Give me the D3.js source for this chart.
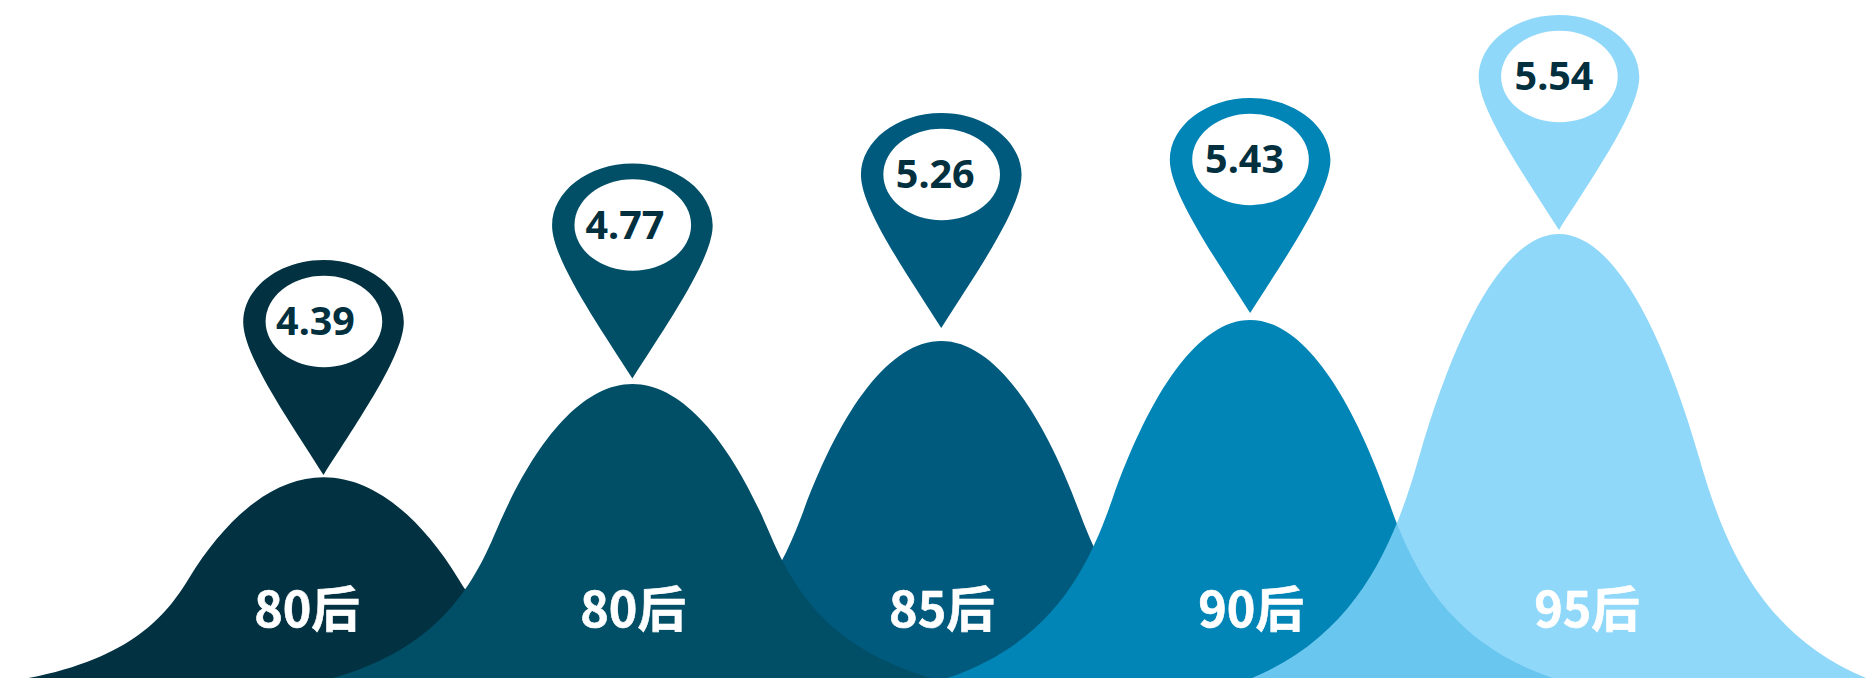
<!DOCTYPE html>
<html lang="zh">
<head>
<meta charset="utf-8">
<title>各年代人群指数</title>
<script src="https://cdn.jsdelivr.net/npm/d3@7/dist/d3.min.js"></script>
<style>
  html, body { margin: 0; padding: 0; background: #fff; overflow: hidden; }
  svg { display: block; }
  .value { font-family: "Noto Sans", sans-serif; font-weight: 700; font-size: 39.5px; fill: #02303f; text-anchor: middle; }
  .cat { font-family: "Noto Sans CJK SC", "Noto Sans", sans-serif; font-weight: 700; font-size: 48.5px; fill: #fff; stroke: #fff; stroke-width: 0.6px; text-anchor: middle; }
</style>
</head>
<body>
<svg id="chart" width="1870" height="678"></svg>
<script>
// Generations and their index values
const categories = ["80后", "80后", "85后", "90后", "95后"];
const values = [4.39, 4.77, 5.26, 5.43, 5.54];
const valueLabels = ["4.39", "4.77", "5.26", "5.43", "5.54"];

// Fill and opacity per generation
const fills = ["#023241", "#004f66", "#005a7d", "#0085b6", "#7bd1f8"];
const opacities = [1, 1, 1, 1, 0.85];

// Peaks are painted in this order, the 85后 peak sits behind its neighbours
const paintOrder = [0, 2, 1, 3, 4];

// Right half of a peak as two cubic segments, in [distance from centre, share of height]
const crestSegment = [[0.17, 1], [0.33, 0.8], [0.457, 0.495]];
const footSegment = [[0.533, 0.312], [0.65, 0.1], [1, 0]];

const width = 1870, height = 678, baseline = height;

// Category centres
const x = d3.scalePoint().domain(d3.range(categories.length)).range([323.5, 1559]);

// Piecewise value scales for the peak crests and the pin tips
const yPeak = d3.scaleLinear().domain(values).range([477.3, 384, 341, 320, 234]);
const yPin = d3.scaleLinear().domain(values).range([475, 378.5, 328, 313, 230]);

// A taller peak spreads slightly wider at its foot
const spread = d3.scaleLinear().domain([200, 444]).range([295, 307]);

const svg = d3.select("#chart");

function peakPath(i) {
  const cx = x(i);
  const top = yPeak(values[i]);
  const h = baseline - top;
  const w = spread(h);
  const rightPt = ([u, v]) => [cx + u * w, baseline - v * h];
  const leftPt = ([u, v]) => [cx - u * w, baseline - v * h];
  const p = d3.path();
  // Up the left flank to the crest
  p.moveTo(...leftPt([1, 0]));
  p.bezierCurveTo(...leftPt(footSegment[1]), ...leftPt(footSegment[0]), ...leftPt(crestSegment[2]));
  p.bezierCurveTo(...leftPt(crestSegment[1]), ...leftPt(crestSegment[0]), cx, top);
  // Down the right flank to the foot
  p.bezierCurveTo(...rightPt(crestSegment[0]), ...rightPt(crestSegment[1]), ...rightPt(crestSegment[2]));
  p.bezierCurveTo(...rightPt(footSegment[0]), ...rightPt(footSegment[1]), ...rightPt(footSegment[2]));
  p.closePath();
  return p.toString();
}

// Teardrop pin with its tip at the origin
function pinPath() {
  const rx = 80.3, ry = 62, len = 215;
  const p = d3.path();
  p.moveTo(0, 0);
  p.bezierCurveTo(-35, -(len - 160), -rx, -(len - 95), -rx, -(len - ry));
  p.bezierCurveTo(-rx, -(len - ry * 0.45), -rx * 0.55, -len, 0, -len);
  p.bezierCurveTo(rx * 0.55, -len, rx, -(len - ry * 0.45), rx, -(len - ry));
  p.bezierCurveTo(rx, -(len - 95), 35, -(len - 160), 0, 0);
  p.closePath();
  return p.toString();
}

svg.append("g").selectAll("path")
  .data(paintOrder)
  .join("path")
  .attr("d", i => peakPath(i))
  .attr("fill", i => fills[i])
  .attr("fill-opacity", i => opacities[i]);

const pins = svg.append("g").selectAll("g")
  .data(d3.range(values.length))
  .join("g")
  .attr("transform", i => `translate(${x(i)},${yPin(values[i])})`);

pins.append("path")
  .attr("d", pinPath())
  .attr("fill", i => fills[i])
  .attr("fill-opacity", i => opacities[i]);

pins.append("ellipse")
  .attr("cx", 0.4)
  .attr("cy", -153.5)
  .attr("rx", 58.3)
  .attr("ry", 45.7)
  .attr("fill", "#fff");

// Label offsets from each category centre
const valueShift = [-8, -7.5, -6, -5.6, -5];
const catShift = [-16.5, 0.7, 0.7, 1, 28];

pins.append("text")
  .attr("class", "value")
  .attr("x", i => valueShift[i])
  .attr("y", -140)
  .text(i => valueLabels[i]);

svg.append("g").selectAll("text")
  .data(d3.range(categories.length))
  .join("text")
  .attr("class", "cat")
  .attr("x", i => x(i) + catShift[i])
  .attr("y", 626.5)
  .text(i => categories[i]);
</script>
</body>
</html>
